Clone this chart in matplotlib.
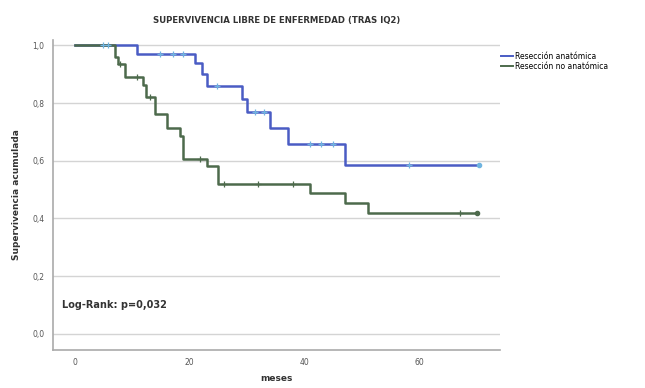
import matplotlib
matplotlib.use("Agg")
import matplotlib.pyplot as plt
from matplotlib.lines import Line2D

# Kaplan-Meier estimates, step starts (months) and survival level after each step
t_anat = [0, 10.8, 20.9, 22.1, 23.0, 29.1, 30.0, 34.0, 37.2, 47.1, 70.4]
s_anat = [1.0, 0.970, 0.938, 0.900, 0.858, 0.814, 0.768, 0.714, 0.657, 0.585, 0.585]
cens_anat_t = [4.9, 5.8, 14.8, 17.1, 18.8, 24.8, 31.5, 33.0, 41.0, 43.0, 45.1, 58.2]

t_noanat = [0, 7.0, 7.6, 8.7, 11.9, 12.5, 14.0, 16.0, 18.3, 18.8, 23.0, 25.0, 41.0, 47.1, 51.2, 70.1]
s_noanat = [1.0, 0.959, 0.936, 0.889, 0.861, 0.820, 0.762, 0.715, 0.686, 0.605, 0.582, 0.518,
            0.487, 0.452, 0.420, 0.420]
cens_noanat_t = [7.9, 10.8, 13.1, 21.8, 26.0, 32.0, 38.1, 67.2]

grupos = ["Resección anatómica", "Resección no anatómica"]
yticks = [0.0, 0.2, 0.4, 0.6, 0.8, 1.0]
xticks = [0, 20, 40, 60]

c_anat = "#4a5cc4"
c_anat_m = "#6fb4e0"
c_noanat = "#4d6a4c"

fig = plt.figure(figsize=(6.45, 3.88), dpi=100)
ax = fig.add_axes([0.082, 0.098, 0.693, 0.8])


def km_value(ts, ss, x):
    v = ss[0]
    for t, s in zip(ts, ss):
        if t <= x:
            v = s
    return v


for ts, ss, ct, col, mcol in [(t_anat, s_anat, cens_anat_t, c_anat, c_anat_m),
                               (t_noanat, s_noanat, cens_noanat_t, c_noanat, c_noanat)]:
    ax.step(ts, ss, where='post', color=col, lw=1.8, zorder=3)
    ax.plot(ct, [km_value(ts, ss, x) for x in ct], '+', color=mcol, ms=4, mew=0.9, zorder=4)
    ax.plot(ts[-1], ss[-1], 'o', color=mcol, ms=3, zorder=4)

ax.set_xlim(-3.8, 74.1)
ax.set_ylim(-0.056, 1.02)
ax.set_yticks(yticks)
ax.set_yticklabels([f"{v:.1f}".replace(".", ",") for v in yticks])
ax.set_xticks(xticks)
ax.tick_params(axis='both', labelsize=5.5, colors="#555555", length=0, pad=6)
ax.grid(axis='y', color="#d4d4d4", lw=1)
ax.set_axisbelow(True)
for side in ['top', 'right']:
    ax.spines[side].set_visible(False)
for side in ['left', 'bottom']:
    ax.spines[side].set_color("#aaaaaa")
    ax.spines[side].set_linewidth(1.2)

ax.set_title("SUPERVIVENCIA LIBRE DE ENFERMEDAD (TRAS IQ2)", fontsize=6.8, fontweight='bold',
             fontstretch='condensed', color="#333333", pad=12)
ax.set_ylabel("Supervivencia acumulada", fontsize=6.5, fontweight='bold', color="#333333",
              labelpad=8)
ax.set_xlabel("meses", fontsize=6.5, fontweight='bold', color="#333333", labelpad=5)
ax.text(-2.2, 0.1, "Log-Rank: p=0,032", fontsize=7, fontweight='bold', color="#333333",
        va='center')

handles = [Line2D([], [], color=c_anat, lw=1.4), Line2D([], [], color=c_noanat, lw=1.4)]
fig.legend(handles, grupos, loc='upper left', bbox_to_anchor=(0.772, 0.875), frameon=False,
           fontsize=5.5, handlelength=1.6, handletextpad=0.2, labelspacing=0.2,
           borderaxespad=0)

fig.savefig("out.png", dpi=100)
